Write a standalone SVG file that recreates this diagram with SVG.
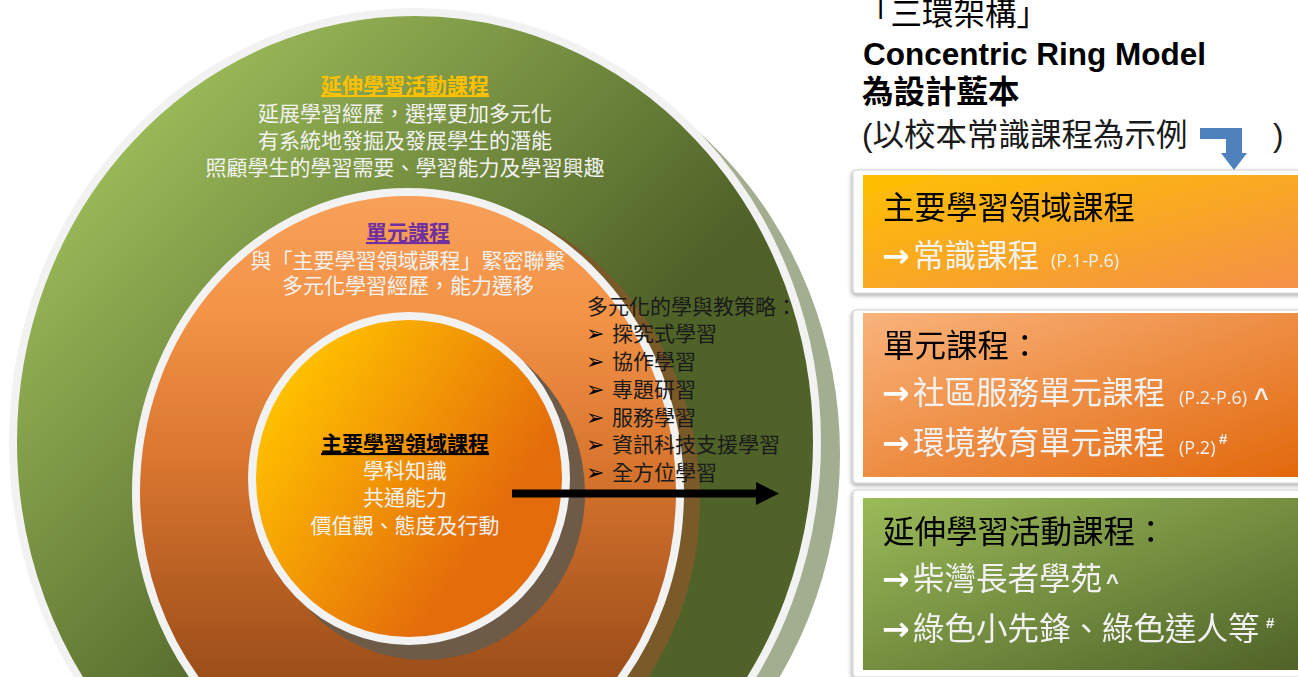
<svg xmlns="http://www.w3.org/2000/svg" width="1298" height="677" viewBox="0 0 1298 677">
<defs>
  <linearGradient id="gGreen" gradientUnits="userSpaceOnUse" x1="100" y1="150" x2="650" y2="700">
    <stop offset="0" stop-color="#9bbb59"/>
    <stop offset="0.65" stop-color="#4f6228"/>
  </linearGradient>
  <linearGradient id="gOrange" gradientUnits="userSpaceOnUse" x1="0" y1="190" x2="0" y2="790">
    <stop offset="0" stop-color="#f8a05a"/>
    <stop offset="0.2" stop-color="#f39447"/>
    <stop offset="0.45" stop-color="#d9762f"/>
    <stop offset="0.8" stop-color="#9e4f1a"/>
    <stop offset="1" stop-color="#8c4516"/>
  </linearGradient>
  <linearGradient id="gInner" x1="0.15" y1="0.15" x2="0.8" y2="0.6">
    <stop offset="0" stop-color="#ffc000"/>
    <stop offset="1" stop-color="#e46c0a"/>
  </linearGradient>
  <linearGradient id="gBox1" x1="0" y1="0" x2="1" y2="1">
    <stop offset="0" stop-color="#ffc000"/>
    <stop offset="1" stop-color="#f49048"/>
  </linearGradient>
  <linearGradient id="gBox2" x1="0" y1="0" x2="1" y2="1">
    <stop offset="0" stop-color="#f9b37b"/>
    <stop offset="1" stop-color="#e2680c"/>
  </linearGradient>
  <linearGradient id="gBox3" x1="0" y1="0" x2="1" y2="1">
    <stop offset="0" stop-color="#9bbb59"/>
    <stop offset="1" stop-color="#4f6228"/>
  </linearGradient>
  <filter id="fShadow" x="-5%" y="-10%" width="115%" height="125%">
    <feDropShadow dx="-1" dy="2" stdDeviation="2" flood-color="#000" flood-opacity="0.35"/>
  </filter>
</defs>
<style>
  .cjk{font-family:"Noto Sans CJK TC","Noto Sans CJK SC",sans-serif}
  .lat{font-family:"Liberation Sans","Noto Sans CJK TC",sans-serif}
  .c21{font-size:21px}
  .wt{fill:#f2f2f2}
  .mid{text-anchor:middle}
  .ul{text-decoration:underline}
  .b{font-weight:bold}
  .rim{stroke:#f2f2f2;stroke-width:8}
  .frame{fill:#ffffff;stroke:#d0d0d0;stroke-width:1}
  .bx{font-size:31.5px}
  .arw{font-family:"DejaVu Sans",sans-serif;font-weight:bold;font-size:33px;fill:#ffffff}
  .sm{font-family:"Open Sans","Liberation Sans",sans-serif;font-size:18px}
  .sup{font-family:"Liberation Sans",sans-serif;font-weight:bold;fill:#f2f2f2}
  .bul{font-family:"DejaVu Sans",sans-serif;font-size:22px;fill:#000}
  .st{fill:#1a1a1a}
</style>

<g id="outer-ring">
  <ellipse cx="436" cy="454" rx="404" ry="424" fill="#a3ad8f"/>
  <ellipse cx="415" cy="442" rx="402" ry="430" fill="url(#gGreen)" class="rim"/>
  <text class="cjk c21 b ul mid" x="405" y="93" fill="#ffc000">延伸學習活動課程</text>
  <text class="cjk c21 wt mid" x="405" y="121">延展學習經歷，選擇更加多元化</text>
  <text class="cjk c21 wt mid" x="405" y="148">有系統地發掘及發展學生的潛能</text>
  <text class="cjk c21 wt mid" x="405" y="175">照顧學生的學習需要、學習能力及學習興趣</text>
</g>

<g id="middle-ring">
  <ellipse cx="424" cy="500" rx="276" ry="304" fill="#7a5a28"/>
  <ellipse cx="408" cy="492" rx="272" ry="300" fill="url(#gOrange)" class="rim"/>
  <text class="cjk c21 b ul mid" x="408" y="240" fill="#7030a0">單元課程</text>
  <text class="cjk c21 wt mid" x="408" y="268">與「主要學習領域課程」緊密聯繫</text>
  <text class="cjk c21 wt mid" x="408" y="293">多元化學習經歷，能力遷移</text>
</g>

<g id="inner-circle">
  <ellipse cx="424" cy="493" rx="161" ry="167" fill="#6e5b47"/>
  <ellipse cx="409" cy="478.5" rx="157" ry="162.5" fill="url(#gInner)" class="rim"/>
  <text class="cjk c21 b ul mid" x="405" y="451" fill="#000">主要學習領域課程</text>
  <text class="cjk c21 wt mid" x="405" y="478">學科知識</text>
  <text class="cjk c21 wt mid" x="405" y="505">共通能力</text>
  <text class="cjk c21 wt mid" x="405" y="533">價值觀、態度及行動</text>
</g>

<g id="strategies">
  <text class="cjk c21 st" x="587" y="314">多元化的學與教策略：</text>
  <text class="bul" x="586" y="341">➢</text><text class="cjk c21 st" x="612" y="341">探究式學習</text>
  <text class="bul" x="586" y="369">➢</text><text class="cjk c21 st" x="612" y="369">協作學習</text>
  <text class="bul" x="586" y="397">➢</text><text class="cjk c21 st" x="612" y="397">專題研習</text>
  <text class="bul" x="586" y="425">➢</text><text class="cjk c21 st" x="612" y="425">服務學習</text>
  <text class="bul" x="586" y="452">➢</text><text class="cjk c21 st" x="612" y="452">資訊科技支援學習</text>
  <text class="bul" x="586" y="480">➢</text><text class="cjk c21 st" x="612" y="480">全方位學習</text>
</g>

<g id="title">
  <text class="cjk" x="859" y="25" font-size="31.5" fill="#000">「三環架構」</text>
  <text x="863" y="65" font-family="Liberation Sans, Arial, sans-serif" font-weight="bold" font-size="31.5" fill="#000">Concentric Ring Model</text>
  <text class="cjk b" x="862" y="103" font-size="31.5" fill="#000">為設計藍本</text>
  <text class="lat" x="862" y="146" font-size="31.5" fill="#1a1a1a">(以校本常識課程為示例</text>
  <text class="lat" x="1273" y="146" font-size="31.5" fill="#1a1a1a">)</text>
</g>

<g id="box-core" filter="url(#fShadow)">
  <rect class="frame" x="853" y="170" width="460" height="123" rx="3"/>
  <rect x="863" y="175" width="440" height="113" fill="url(#gBox1)"/>
  <text class="cjk bx" x="883" y="219" fill="#000">主要學習領域課程</text>
  <text class="arw" x="882" y="267">→</text>
  <text class="cjk bx wt" x="913" y="267">常識課程</text>
  <text class="sm wt" x="1051" y="267">(P.1-P.6)</text>
</g>

<g id="box-unit" filter="url(#fShadow)">
  <rect class="frame" x="853" y="310" width="460" height="173" rx="3"/>
  <rect x="863" y="313" width="440" height="164" fill="url(#gBox2)"/>
  <text class="cjk bx" x="883" y="357" fill="#000">單元課程：</text>
  <text class="arw" x="882" y="404">→</text>
  <text class="cjk bx wt" x="913" y="404">社區服務單元課程</text>
  <text class="sm wt" x="1179" y="404">(P.2-P.6)</text>
  <text class="sup" x="1254" y="407" font-size="25">^</text>
  <text class="arw" x="882" y="454">→</text>
  <text class="cjk bx wt" x="913" y="454">環境教育單元課程</text>
  <text class="sm wt" x="1179" y="454">(P.2)</text>
  <text class="sup" x="1219" y="444" font-size="15">#</text>
</g>

<g id="box-extended" filter="url(#fShadow)">
  <rect class="frame" x="853" y="490" width="460" height="187" rx="3"/>
  <rect x="863" y="498" width="440" height="172" fill="url(#gBox3)"/>
  <text class="cjk bx" x="883" y="543" fill="#000">延伸學習活動課程：</text>
  <text class="arw" x="882" y="590">→</text>
  <text class="cjk bx wt" x="913" y="590">柴灣長者學苑</text>
  <text class="sup" x="1106" y="590" font-size="22">^</text>
  <text class="arw" x="882" y="640">→</text>
  <text class="cjk bx wt" x="913" y="640">綠色小先鋒、綠色達人等</text>
  <text class="sup" x="1266" y="628" font-size="15">#</text>
</g>

<g id="connectors">
  <polygon points="512,489.5 756,489.5 756,482 779,493.5 756,505 756,497.5 512,497.5" fill="#000"/>
  <polygon points="1200,128 1242,128 1242,153 1247,153 1234,170 1221,153 1226,153 1226,139 1200,139" fill="#4f81bd"/>
</g>
</svg>
